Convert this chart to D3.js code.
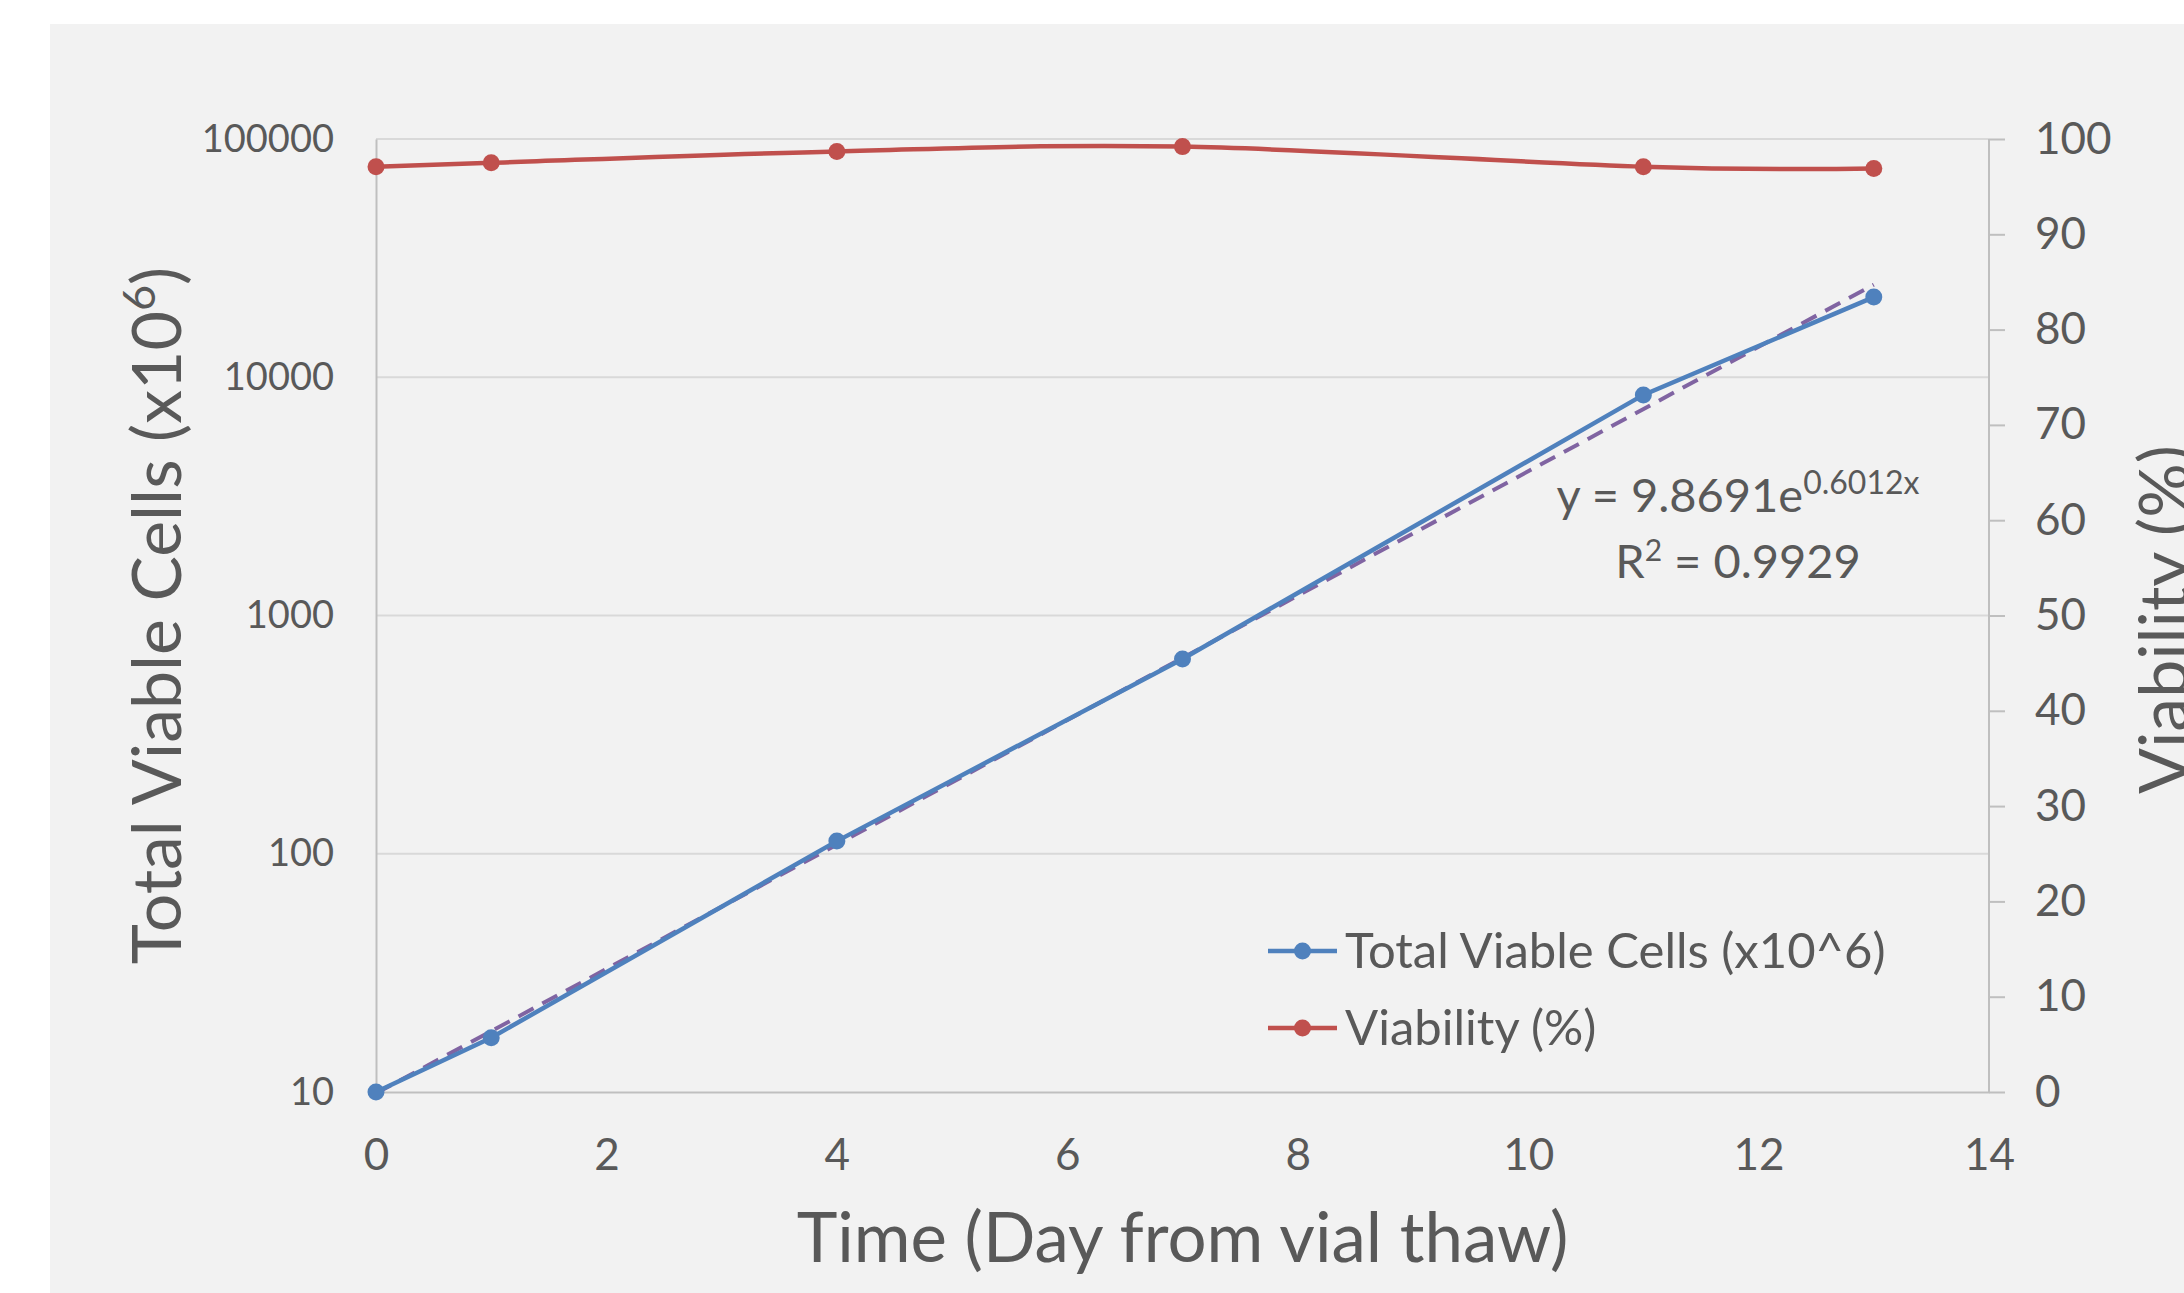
<!DOCTYPE html>
<html>
<head>
<meta charset="utf-8">
<script src="https://cdn.jsdelivr.net/npm/d3@7"></script>
<style>
  html, body { margin: 0; padding: 0; background: #ffffff; }
  svg { display: block; font-family: Lato, "Open Sans", sans-serif; }
  .tick text { fill: #595959; }
</style>
</head>
<body>
<svg id="chart" width="2184" height="1293"></svg>
<script>
// data
const days = [0, 1, 4, 7, 11, 13];
const totalCells = [10, 16.9, 113, 657, 8430, 21700];
const viability = [97.1, 97.5, 98.7, 99.2, 97.1, 96.9];

const xTicks = [0, 2, 4, 6, 8, 10, 12, 14];
const leftTicks = [10, 100, 1000, 10000, 100000];
const rightTicks = [0, 10, 20, 30, 40, 50, 60, 70, 80, 90, 100];

// exponential trendline shown on the chart
const trendA = 9.8691;
const trendB = 0.6012;
const trendR2 = 0.9929;

const seriesNames = ['Total Viable Cells (x10^6)', 'Viability (%)'];
const seriesColors = ['#4f81bd', '#c0504d'];
const trendColor = '#8064a2';

const svg = d3.select('#chart');
const plot = { left: 376, right: 1989, top: 139, bottom: 1092 };

svg.append('rect')
   .attr('x', 50).attr('y', 24)
   .attr('width', 2184 - 50).attr('height', 1293 - 24)
   .attr('fill', '#f2f2f2');

const x = d3.scaleLinear().domain([0, 14]).range([plot.left, plot.right]);
const yLeft = d3.scaleLog().domain([10, 100000]).range([plot.bottom, plot.top]);
const yRight = d3.scaleLinear().domain([0, 100]).range([plot.bottom, plot.top]);

// gridlines
svg.append('g')
   .selectAll('line')
   .data(leftTicks.slice(1))
   .enter()
   .append('line')
   .attr('x1', plot.left).attr('x2', plot.right)
   .attr('y1', (d) => yLeft(d)).attr('y2', (d) => yLeft(d))
   .attr('stroke', '#d9d9d9')
   .attr('stroke-width', 2);

// left axis
const leftAxis = svg.append('g')
   .attr('transform', `translate(${plot.left},0)`)
   .call(d3.axisLeft(yLeft).tickValues(leftTicks).tickFormat(d3.format('d')).tickSize(0).tickPadding(42));
leftAxis.select('.domain').attr('stroke', '#bfbfbf').attr('stroke-width', 2);
leftAxis.selectAll('text').attr('font-size', 38).attr('font-family', 'Lato');

// right axis
const rightAxis = svg.append('g')
   .attr('transform', `translate(${plot.right},0)`)
   .call(d3.axisRight(yRight).tickValues(rightTicks).tickSize(16).tickPadding(30));
rightAxis.select('.domain').attr('stroke', '#bfbfbf').attr('stroke-width', 2).attr('d', `M0,${plot.top}V${plot.bottom}`);
rightAxis.selectAll('.tick line').attr('stroke', '#bfbfbf').attr('stroke-width', 2);
rightAxis.selectAll('text').attr('font-size', 44).attr('font-family', 'Lato');

// bottom axis
const bottomAxis = svg.append('g')
   .attr('transform', `translate(0,${plot.bottom})`)
   .call(d3.axisBottom(x).tickValues(xTicks).tickSize(0));
bottomAxis.select('.domain').attr('stroke', '#bfbfbf').attr('stroke-width', 2);
bottomAxis.selectAll('text').attr('font-size', 44).attr('font-family', 'Lato').attr('y', 78).attr('dy', 0);

// trendline (exponential fit, straight on log scale)
const trendDays = d3.extent(days);
svg.append('path')
   .datum(trendDays)
   .attr('fill', 'none')
   .attr('stroke', trendColor)
   .attr('stroke-width', 4)
   .attr('stroke-dasharray', '17,10')
   .attr('d', d3.line().x((d) => x(d)).y((d) => yLeft(trendA * Math.exp(trendB * d))));

// series
const cellsData = days.map((d, i) => [d, totalCells[i]]);
const viaData = days.map((d, i) => [d, viability[i]]);

svg.append('path')
   .datum(viaData)
   .attr('fill', 'none')
   .attr('stroke', seriesColors[1])
   .attr('stroke-width', 4.5)
   .attr('d', d3.line().curve(d3.curveCatmullRom.alpha(0)).x((d) => x(d[0])).y((d) => yRight(d[1])));

svg.append('g')
   .selectAll('circle')
   .data(viaData)
   .enter()
   .append('circle')
   .attr('cx', (d) => x(d[0])).attr('cy', (d) => yRight(d[1]))
   .attr('r', 8.5)
   .attr('fill', seriesColors[1]);

svg.append('path')
   .datum(cellsData)
   .attr('fill', 'none')
   .attr('stroke', seriesColors[0])
   .attr('stroke-width', 4.5)
   .attr('d', d3.line().x((d) => x(d[0])).y((d) => yLeft(d[1])));

svg.append('g')
   .selectAll('circle')
   .data(cellsData)
   .enter()
   .append('circle')
   .attr('cx', (d) => x(d[0])).attr('cy', (d) => yLeft(d[1]))
   .attr('r', 8.5)
   .attr('fill', seriesColors[0]);

// trendline label
const eq = svg.append('text')
   .attr('x', 1738).attr('y', 512)
   .attr('text-anchor', 'middle')
   .attr('font-size', 47)
   .attr('fill', '#595959');
eq.append('tspan').text(`y = ${trendA}e`);
eq.append('tspan').attr('font-size', 32).attr('dy', -18).text(`${trendB}x`);

const r2 = svg.append('text')
   .attr('x', 1738).attr('y', 578)
   .attr('text-anchor', 'middle')
   .attr('font-size', 47)
   .attr('fill', '#595959');
r2.append('tspan').text('R');
r2.append('tspan').attr('font-size', 30).attr('dy', -17).text('2');
r2.append('tspan').attr('dy', 17).text(` = ${trendR2}`);

// legend
const legend = svg.append('g')
   .selectAll('g')
   .data(seriesNames)
   .enter()
   .append('g')
   .attr('transform', (d, i) => `translate(1268,${951 + i * 77})`);

legend.append('line')
   .attr('x1', 0).attr('x2', 69)
   .attr('stroke', (d, i) => seriesColors[i])
   .attr('stroke-width', 4.5);
legend.append('circle')
   .attr('cx', 34.5).attr('r', 8.5)
   .attr('fill', (d, i) => seriesColors[i]);
legend.append('text')
   .attr('x', 77).attr('y', 17)
   .attr('font-size', 49)
   .attr('fill', '#595959')
   .text((d) => d);

// axis titles
svg.append('text')
   .attr('x', (plot.left + plot.right) / 2).attr('y', 1262)
   .attr('text-anchor', 'middle')
   .attr('font-size', 69)
   .attr('fill', '#595959')
   .text('Time (Day from vial thaw)');

const leftTitle = svg.append('text')
   .attr('transform', `translate(181,${(plot.top + plot.bottom) / 2}) rotate(-90)`)
   .attr('text-anchor', 'middle')
   .attr('font-size', 68)
   .attr('fill', '#595959');
leftTitle.append('tspan').text('Total Viable Cells (x10');
leftTitle.append('tspan').attr('font-size', 45).attr('dy', -26).text('6');
leftTitle.append('tspan').attr('dy', 26).text(')');

svg.append('text')
   .attr('transform', 'translate(2188,794) rotate(-90)')
   .attr('font-size', 68)
   .attr('fill', '#595959')
   .text('Viability (%)');
</script>
</body>
</html>
